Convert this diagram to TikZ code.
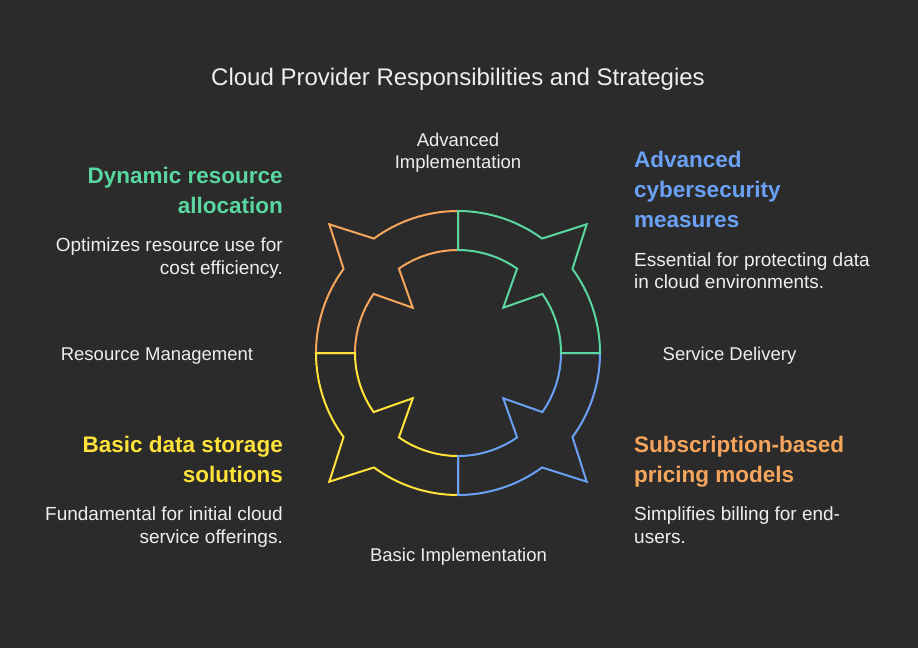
\documentclass[tikz,border=0pt]{standalone}
\usepackage{fontspec}
\setmainfont{Liberation Sans}
\definecolor{bg}{HTML}{2B2B2B}
\definecolor{txt}{HTML}{EEEEEE}
\definecolor{cgreen}{HTML}{5AD6A0}
\definecolor{cblue}{HTML}{6BA1F5}
\definecolor{cyellow}{HTML}{FFE23A}
\definecolor{corange}{HTML}{F5A55C}
\begin{document}
\begin{tikzpicture}
  [x=1pt, y=-1pt,
   every node/.style={text=txt, inner sep=0pt},
   title/.style={font=\fontsize{24}{28}\selectfont},
   label/.style={font=\fontsize{18.5}{22}\selectfont, align=center},
   head/.style={font=\fontsize{22.5}{30}\selectfont\bfseries},
   body/.style={font=\fontsize{19}{22.5}\selectfont},
   piece/.style={line width=2pt, line join=miter}]
  \useasboundingbox[fill=bg] (0,0) rectangle (918,648);
  \foreach \a/\col in {180/corange, 90/cyellow, 0/cblue, 270/cgreen}
    \draw[piece, draw=\col, shift={(458,353)}]
      (\a:142) arc[start angle=\a, end angle=\a+36.3, radius=142]
      -- (\a+45:182) -- (\a+53.7:142)
      arc[start angle=\a+53.7, end angle=\a+90, radius=142]
      -- (\a+90:103) arc[start angle=\a+90, end angle=\a+55, radius=103]
      -- (\a+45:64) -- (\a+35:103)
      arc[start angle=\a+35, end angle=\a, radius=103] -- cycle;
  \node[title, anchor=base] (title) at (458,85.5) {Cloud Provider Responsibilities and Strategies};
  \node[label, anchor=base] (advImpl) at (458,168.3) {Advanced\\Implementation};
  \node[label, anchor=base] (servDel) at (729.5,360) {Service Delivery};
  \node[label, anchor=base] (resMgmt) at (157,360) {Resource Management};
  \node[label, anchor=base] (basicImpl) at (458.5,561.5) {Basic Implementation};
  \node[head, text=cgreen, align=right, anchor=base east] (dynHead) at (283,213) {Dynamic resource\\allocation};
  \node[body, align=right, anchor=base east] (dynText) at (283,274) {Optimizes resource use for\\cost efficiency.};
  \node[head, text=cblue, align=left, anchor=base west] (secHead) at (634,227.5) {Advanced\\cybersecurity\\measures};
  \node[body, align=left, anchor=base west] (secText) at (634,288.5) {Essential for protecting data\\in cloud environments.};
  \node[head, text=cyellow, align=right, anchor=base east] (storHead) at (283,482.5) {Basic data storage\\solutions};
  \node[body, align=right, anchor=base east] (storText) at (283,543.3) {Fundamental for initial cloud\\service offerings.};
  \node[head, text=corange, align=left, anchor=base west] (subHead) at (634,482.5) {Subscription-based\\pricing models};
  \node[body, align=left, anchor=base west] (subText) at (634,543.3) {Simplifies billing for end-\\users.};
\end{tikzpicture}
\end{document}
